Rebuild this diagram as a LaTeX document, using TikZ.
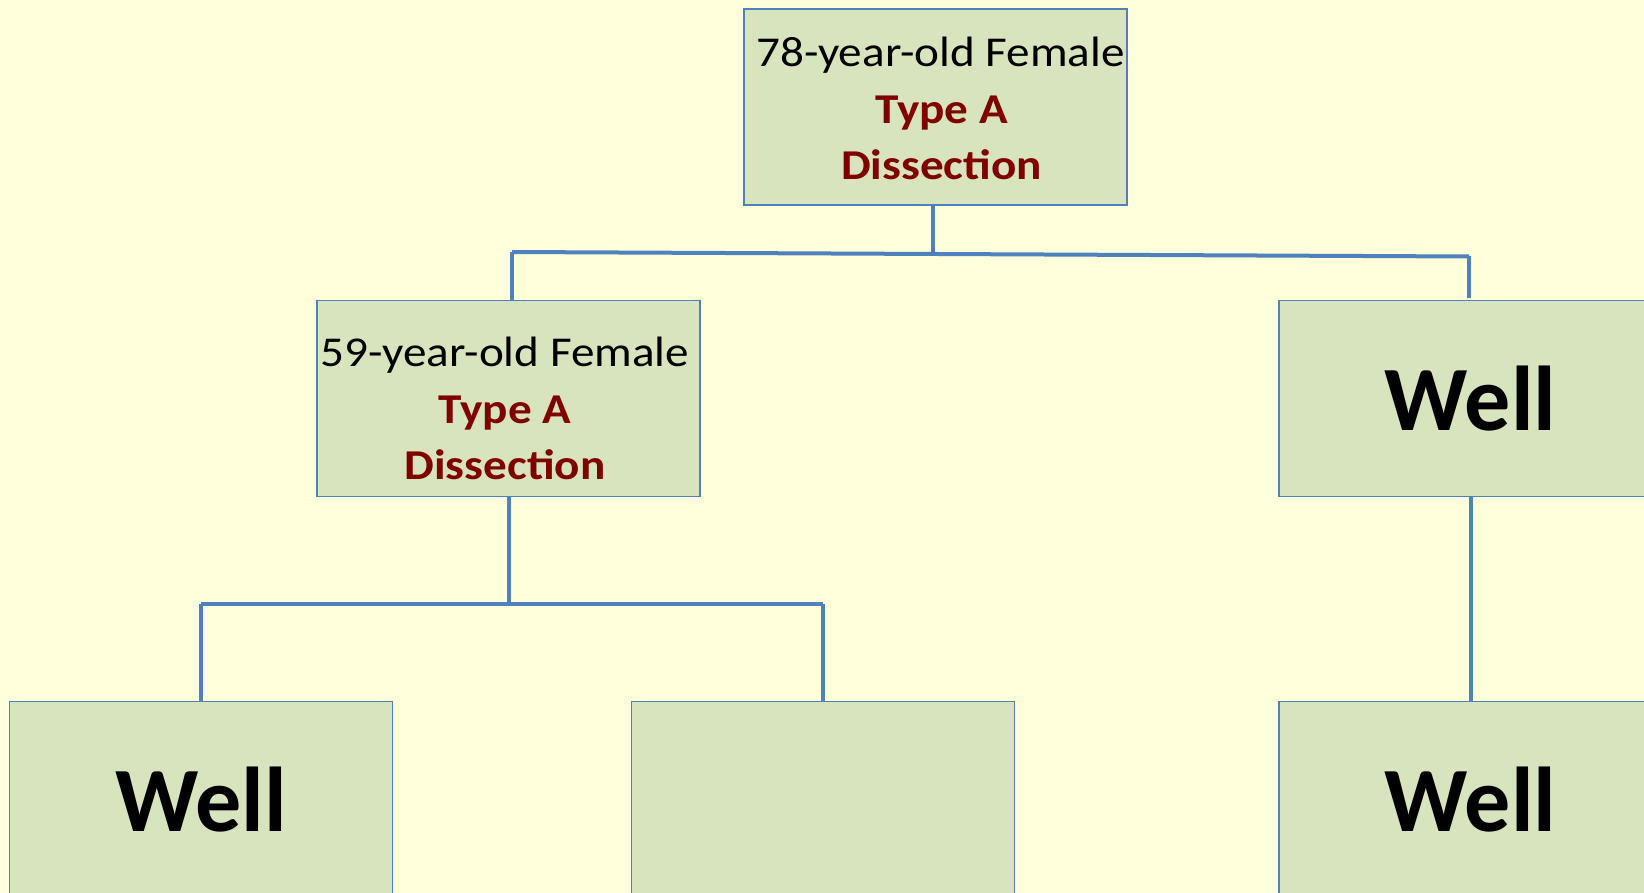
\documentclass[tikz,border=0pt]{standalone}
\usepackage{fontspec}
\setmainfont{Carlito}
\newfontfamily\casefont[FakeStretch=1.11]{Carlito}
\definecolor{pagebg}{RGB}{255,255,220}
\definecolor{boxfill}{RGB}{215,228,189}
\definecolor{boxline}{RGB}{79,129,189}
\definecolor{darkred}{RGB}{128,0,0}
\tikzset{
  card/.style={draw=boxline, line width=1.3pt, fill=boxfill, rectangle,
    minimum width=383pt, minimum height=196pt, inner sep=0pt, align=center},
  casetext/.style={font=\casefont\fontsize{42.5}{56.5}\selectfont},
  welltext/.style={font=\fontsize{92}{100}\selectfont\bfseries},
  link/.style={draw=boxline, line width=4pt}
}
\newcommand{\dx}[1]{\textcolor{darkred}{\bfseries #1}}
% three-line case label, drawn #1 lower than its declared box
\newcommand{\caselines}[4]{\raisebox{-#1}[\height][\depth]{\begin{tabular}{@{}c@{}}#2\\#3\\#4\end{tabular}}}
\begin{document}
\begin{tikzpicture}[x=1pt,y=-1pt]
  \useasboundingbox (0,0) rectangle (1644,893);
  \clip (0,0) rectangle (1644,893);
  \fill[pagebg] (0,0) rectangle (1644,893);

  % generation boxes
  \node[card, casetext] (top) at (935.5,107)
    {\caselines{5pt}{\hspace*{10pt}78-year-old Female}{\hspace*{12pt}\dx{Type A}}{\hspace*{12pt}\dx{Dissection}}};
  \node[card, casetext] (mid) at (508.5,398.5)
    {\caselines{13.5pt}{59-year-old Female\hspace*{7pt}}{\dx{Type A}\hspace*{7pt}}{\dx{Dissection}\hspace*{7pt}}};
  \node[card, welltext] (wellR) at (1470.5,398.5) {Well};
  \node[card, welltext] (wellL) at (201,799.5) {Well};
  \node[card] (blank) at (823,799.5) {};
  \node[card, welltext] (wellB) at (1470.5,799.5) {Well};

  % branch points
  \coordinate (barL) at (512,252);
  \coordinate (barR) at (1469,256.5);
  \coordinate (barT) at (933,254);
  \coordinate (subT) at (508.5,604);

  % connectors
  \draw[link] (top.south -| barT) -- (barT);
  \draw[link] (barL) -- (barR);
  \draw[link] (barL) -- (barL |- mid.north);
  \draw[link] (barR) -- ([yshift=2pt]barR |- wellR.north);
  \draw[link] (mid.south) -- (subT);
  \draw[link] (wellL.north |- subT) -- (blank.north |- subT);
  \draw[link] (wellL.north |- subT) -- (wellL.north);
  \draw[link] (blank.north |- subT) -- (blank.north);
  \draw[link] (wellR.south) -- (wellB.north);
\end{tikzpicture}
\end{document}
